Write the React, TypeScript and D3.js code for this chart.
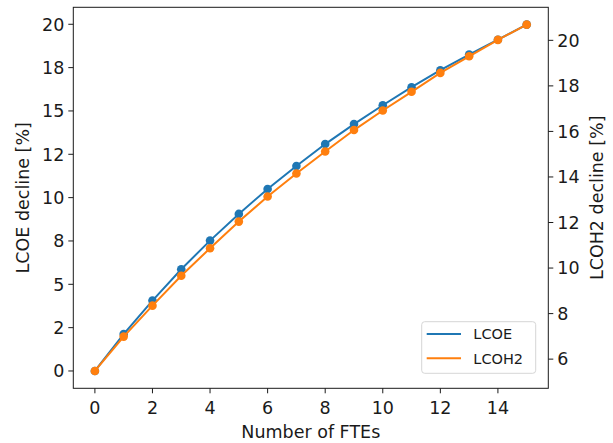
import React from "react";
import * as d3 from "d3";

const ftes = [0, 1, 2, 3, 4, 5, 6, 7, 8, 9, 10, 11, 12, 13, 14, 15];
const lcoe = [0, 2.13, 4.06, 5.87, 7.52, 9.06, 10.5, 11.82, 13.09, 14.24, 15.33, 16.37, 17.35, 18.25, 19.11, 19.98];
const lcoh2 = [5.48, 6.99, 8.35, 9.66, 10.87, 12.04, 13.14, 14.15, 15.12, 16.06, 16.92, 17.74, 18.57, 19.3, 20.02, 20.69];
const xTicks = [0, 2, 4, 6, 8, 10, 12, 14];
const leftTicks = [0, 2.5, 5, 7.5, 10, 12.5, 15, 17.5, 20];
const leftTickLabels = ["0", "2", "5", "8", "10", "12", "15", "18", "20"];
const rightTicks = [6, 8, 10, 12, 14, 16, 18, 20];
const seriesNames = ["LCOE", "LCOH2"];
const colors = ["#1f77b4", "#ff7f0e"];

const W = 613, H = 443;
const L = 73.3, R = 548.3, T = 7.3, B = 388.3;
const FONT = "DejaVu Sans, sans-serif";

function padded(vals: number[]): [number, number] {
  const [a, b] = d3.extent(vals) as [number, number];
  const m = (b - a) * 0.05;
  return [a - m, b + m];
}

export default function App() {
  const x = d3.scaleLinear().domain(padded(ftes)).range([L, R]);
  const yL = d3.scaleLinear().domain(padded(lcoe)).range([B, T]);
  const yR = d3.scaleLinear().domain(padded(lcoh2)).range([B, T]);
  const line1 = d3.line<number>().x((_, i) => x(ftes[i])).y((d) => yL(d));
  const line2 = d3.line<number>().x((_, i) => x(ftes[i])).y((d) => yR(d));
  const fs = 17.5;
  const ink = "#1a1a1a";
  return (
    <svg width={W} height={H} style={{ position: "absolute", left: 0, top: 0, background: "#fff" }} fontFamily={FONT}>
      <rect x={0} y={0} width={W} height={H} fill="#fff" />
      <path d={line1(lcoe) || ""} fill="none" stroke={colors[0]} strokeWidth={2} />
      {lcoe.map((v, i) => (
        <circle key={"a" + i} cx={x(ftes[i])} cy={yL(v)} r={4.3} fill={colors[0]} />
      ))}
      <path d={line2(lcoh2) || ""} fill="none" stroke={colors[1]} strokeWidth={2} />
      {lcoh2.map((v, i) => (
        <circle key={"b" + i} cx={x(ftes[i])} cy={yR(v)} r={4.3} fill={colors[1]} />
      ))}
      <rect x={L} y={T} width={R - L} height={B - T} fill="none" stroke={ink} strokeWidth={1} />
      {xTicks.map((t) => (
        <g key={"x" + t}>
          <line x1={x(t)} x2={x(t)} y1={B} y2={B + 5} stroke={ink} />
          <text x={x(t)} y={413.5} textAnchor="middle" fontSize={fs} fill={ink}>{t}</text>
        </g>
      ))}
      {leftTicks.map((t, i) => (
        <g key={"l" + t}>
          <line x1={L - 5} x2={L} y1={yL(t)} y2={yL(t)} stroke={ink} />
          <text x={L - 9} y={yL(t)} dy="0.36em" textAnchor="end" fontSize={fs} fill={ink}>{leftTickLabels[i]}</text>
        </g>
      ))}
      {rightTicks.map((t) => (
        <g key={"r" + t}>
          <line x1={R} x2={R + 5} y1={yR(t)} y2={yR(t)} stroke={ink} />
          <text x={R + 9} y={yR(t)} dy="0.36em" textAnchor="start" fontSize={fs} fill={ink}>{t}</text>
        </g>
      ))}
      <text x={(L + R) / 2} y={438} textAnchor="middle" fontSize={fs} fill={ink}>Number of FTEs</text>
      <text transform={`translate(28.5,${(T + B) / 2}) rotate(-90)`} textAnchor="middle" fontSize={fs} fill={ink}>LCOE decline [%]</text>
      <text transform={`translate(602.5,${(T + B) / 2}) rotate(-90)`} textAnchor="middle" fontSize={fs} fill={ink}>LCOH2 decline [%]</text>
      <rect x={421.7} y={321.7} width={114} height={51.6} rx={3} fill="#fff" fillOpacity={0.8} stroke="#d6d6d6" />
      {seriesNames.map((n, i) => (
        <g key={n}>
          <line x1={426.7} x2={461} y1={334 + i * 24.3} y2={334 + i * 24.3} stroke={colors[i]} strokeWidth={2} />
          <text x={473.3} y={334 + i * 24.3} dy="0.36em" fontSize={14.5} fill={ink}>{n}</text>
        </g>
      ))}
    </svg>
  );
}
